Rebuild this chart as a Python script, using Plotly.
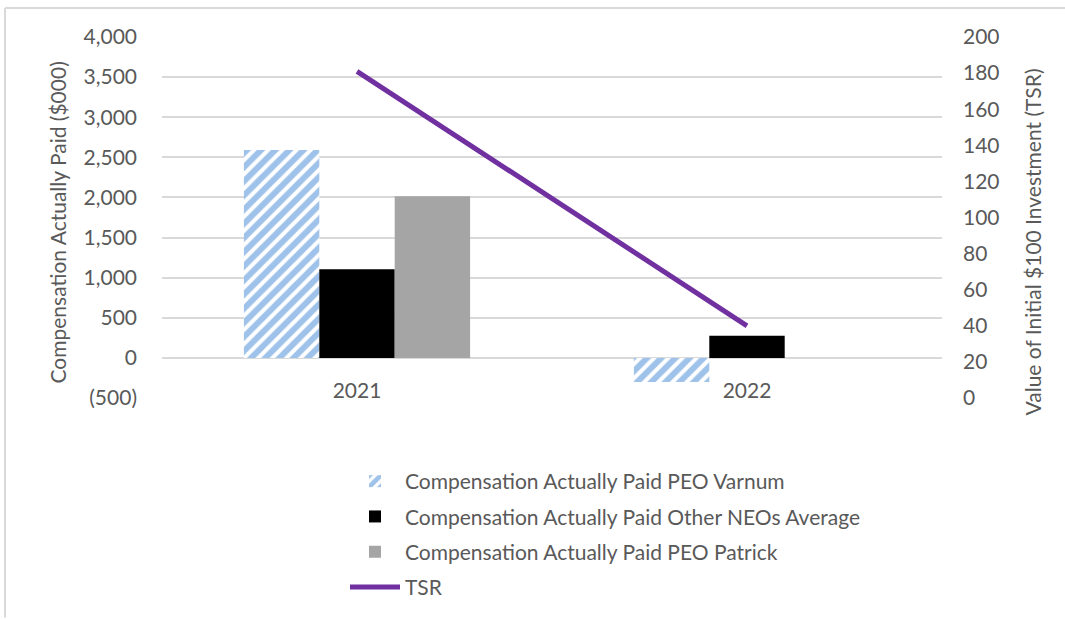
import plotly.graph_objects as go

# ---- data ----
years = ["2021", "2022"]
cap_varnum = [2590, -300]
cap_other_neos = [1105, 275]
cap_patrick = [2015, None]
tsr = [181, 40]

left_tick_vals = [-500, 0, 500, 1000, 1500, 2000, 2500, 3000, 3500, 4000]
left_tick_text = ["(500)", "0", "500", "1,000", "1,500", "2,000", "2,500", "3,000", "3,500", "4,000"]

FONT = "Lato"
GREY_TXT = "#595959"
GRID = "#d9d9d9"

W, H = 1065, 619
L, R, T, B = 162, 123, 37, 220
PW, PH = W - L - R, H - T - B


def px_x(px):
    return (px - L) / PW


def px_y(py):
    return (H - B - py) / PH


fig = go.Figure()
fig.add_bar(
    x=years, y=cap_varnum, name="Compensation Actually Paid PEO Varnum",
    legendgroup="a",
    marker=dict(color="white", line=dict(width=0),
                pattern=dict(shape="/", fgcolor="#3D86D4", bgcolor="white",
                             size=10, solidity=0.6)),
)
fig.add_bar(
    x=years, y=cap_other_neos, name="Compensation Actually Paid Other NEOs Average",
    legendgroup="b",
    marker=dict(color="#000000", line=dict(width=0)),
)
fig.add_bar(
    x=years, y=cap_patrick, name="Compensation Actually Paid PEO Patrick",
    legendgroup="c",
    marker=dict(color="#A5A5A5", line=dict(width=0)),
)
fig.add_scatter(
    x=years, y=tsr, name="TSR", yaxis="y2", mode="lines", legendgroup="d",
    line=dict(color="#7030A0", width=5),
)

fig.update_layout(
    width=W, height=H,
    margin=dict(l=L, r=R, t=T, b=B),
    paper_bgcolor="white", plot_bgcolor="white",
    font=dict(family=FONT, size=21, color=GREY_TXT),
    barmode="group", bargap=0.42, bargroupgap=0,
    showlegend=True,
    legend=dict(x=px_x(345), y=px_y(461), xanchor="left", yanchor="top",
                orientation="v", font=dict(size=21, color=GREY_TXT),
                bgcolor="rgba(0,0,0,0)", tracegroupgap=5, traceorder="grouped",
                itemwidth=50),
    xaxis=dict(type="category", anchor="free", position=px_y(377),
               showgrid=False, showline=False, ticks="", zeroline=False,
               tickfont=dict(size=21, color=GREY_TXT)),
    yaxis=dict(range=[-500, 4000], tickvals=left_tick_vals, ticktext=left_tick_text,
               showgrid=True, gridcolor=GRID, gridwidth=1.5, zeroline=False,
               showline=False, ticks="", ticklabelstandoff=24,
               tickfont=dict(size=21, color=GREY_TXT)),
    yaxis2=dict(range=[0, 200], dtick=20, overlaying="y", side="right",
                showgrid=False, zeroline=False, showline=False, ticks="",
                ticklabelstandoff=20, tickfont=dict(size=21, color=GREY_TXT)),
    annotations=[
        dict(text="Compensation Actually Paid ($000)", textangle=-90,
             xref="paper", yref="paper", x=px_x(57), y=px_y(223),
             xanchor="center", yanchor="middle", showarrow=False,
             font=dict(size=21, color=GREY_TXT)),
        dict(text="Value of Initial $100 Investment (TSR)", textangle=-90,
             xref="paper", yref="paper", x=px_x(1032), y=px_y(243),
             xanchor="center", yanchor="middle", showarrow=False,
             font=dict(size=21, color=GREY_TXT)),
    ],
    shapes=[
        dict(type="line", xref="paper", yref="paper",
             x0=px_x(5), x1=px_x(1065), y0=px_y(8), y1=px_y(8),
             line=dict(color=GRID, width=2)),
        dict(type="line", xref="paper", yref="paper",
             x0=px_x(5), x1=px_x(5), y0=px_y(8), y1=px_y(619),
             line=dict(color=GRID, width=2)),
    ],
)

fig.write_html("out.html", config={"displayModeBar": False},
               post_script="document.body.style.margin='0';document.body.style.overflow='hidden';")
